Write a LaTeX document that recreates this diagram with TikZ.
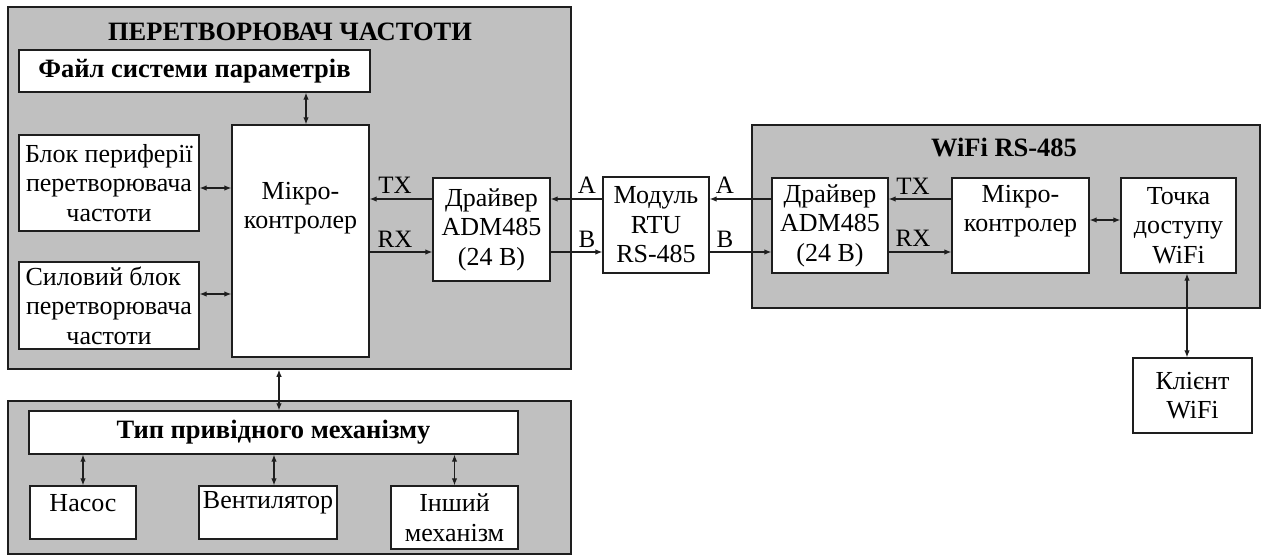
\documentclass[tikz,border=0pt]{standalone}
\usepackage{fontspec}
\setmainfont{Liberation Serif}
\usetikzlibrary{arrows.meta}
\definecolor{grpgray}{HTML}{C0C0C0}
\definecolor{edge}{HTML}{1E1E1E}
\begin{document}
\begin{tikzpicture}[x=1pt,y=-1pt,
  grp/.style={draw=edge,line width=1.5pt,fill=grpgray,inner sep=0pt},
  wbox/.style={draw=edge,line width=1.3pt,fill=white,inner sep=0pt},
  txt/.style={align=center,inner sep=0pt,font=\fontsize{26}{29.5}\selectfont},
  ttl/.style={align=center,inner sep=0pt,font=\fontsize{26.5}{30}\selectfont\bfseries},
  sig/.style={inner sep=0pt,font=\fontsize{25}{28}\selectfont},
  arr/.style={line width=1.2pt,draw=edge,-{Latex[length=7pt,width=5.5pt]}},
  biarr/.style={line width=1.2pt,draw=edge,{Latex[length=7pt,width=5.5pt]}-{Latex[length=7pt,width=5.5pt]}},
]
\useasboundingbox (0,0) rectangle (1266,557);

% group frames
\node[grp,minimum width=563,minimum height=362] (conv) at (289.5,188) {};
\node[grp,minimum width=508,minimum height=183] (wifi) at (1006,216.5) {};
\node[grp,minimum width=563,minimum height=153] (mech) at (289.5,477.5) {};

\node[ttl] (convT) at (290,32) {ПЕРЕТВОРЮВАЧ ЧАСТОТИ};
\node[ttl] (wifiT) at (1004,148) {WiFi RS-485};

% frequency converter internals
\node[wbox,ttl,minimum width=351,minimum height=42] (file) at (194.5,71) {Файл системи параметрів};
\node[wbox,minimum width=137,minimum height=232] (mcL) at (300.5,241) {};
\node[txt] (mcLt) at (300.5,208) {Мікро-\\контролер};
\node[wbox,txt,minimum width=180,minimum height=96] (per) at (109,183) {Блок периферії\\перетворювача\\частоти};
\node[wbox,txt,minimum width=180,minimum height=87] (sil) at (109,305.5) {Силовий блок\hspace*{0.45em}\\перетворювача\\частоти};
\node[wbox,txt,minimum width=117,minimum height=103] (drvL) at (491.5,229.5) {Драйвер\\ADM485\\(24 В)};

% RTU module
\node[wbox,txt,minimum width=106,minimum height=96] (modul) at (656,225) {Модуль\\RTU\\RS-485};

% WiFi RS-485 internals
\node[wbox,txt,minimum width=116,minimum height=95] (drvR) at (830,225.5) {Драйвер\\ADM485\\(24 В)};
\node[wbox,minimum width=137,minimum height=95] (mcR) at (1020.5,225.5) {};
\node[txt] (mcRt) at (1020.5,211) {Мікро-\\контролер};
\node[wbox,txt,minimum width=115,minimum height=95] (ap) at (1178.5,225.5) {Точка\\доступу\\WiFi};
\node[wbox,txt,minimum width=119,minimum height=75] (client) at (1192.5,395.5) {Клієнт\\WiFi};

% drive mechanism types
\node[wbox,ttl,minimum width=489,minimum height=43] (kind) at (273.5,432.5) {Тип привідного механізму};
\node[wbox,minimum width=106,minimum height=53] (pump) at (83,512.5) {};
\node[txt] (pumpT) at (83,503) {Насос};
\node[wbox,minimum width=138,minimum height=53] (fan) at (268,512.5) {};
\node[txt] (fanT) at (268,503) {Вентилятор};
\node[wbox,txt,minimum width=127,minimum height=63] (other) at (454.5,517.5) {Інший\\механізм};

% signal rows and vertical tracks
\coordinate (yTX) at (0,199);
\coordinate (yRX) at (0,252);
\coordinate (yPer) at (0,188);
\coordinate (ySil) at (0,294);
\coordinate (yAP) at (0,220);
\coordinate (xFile) at (306,0);
\coordinate (xConv) at (279,0);
\coordinate (xCl) at (1187,0);
\coordinate (xFan) at (274,0);

% links inside the converter
\draw[biarr] (file.south -| xFile) -- (mcL.north -| xFile);
\draw[biarr] (per.east |- yPer) -- (mcL.west |- yPer);
\draw[biarr] (sil.east |- ySil) -- (mcL.west |- ySil);
\draw[arr] (drvL.west |- yTX) -- (mcL.east |- yTX);
\draw[arr] (mcL.east |- yRX) -- (drvL.west |- yRX);
\node[sig] (txL) at (395,185) {TX};
\node[sig] (rxL) at (395,239) {RX};

% RS-485 lines
\draw[arr] (modul.west |- yTX) -- (drvL.east |- yTX);
\draw[arr] (drvL.east |- yRX) -- (modul.west |- yRX);
\node[sig] (aL) at (587,185) {A};
\node[sig] (bL) at (587,239) {B};
\draw[arr] (drvR.west |- yTX) -- (modul.east |- yTX);
\draw[arr] (modul.east |- yRX) -- (drvR.west |- yRX);
\node[sig] (aR) at (725,185) {A};
\node[sig] (bR) at (725,239) {B};

% links inside WiFi RS-485
\draw[arr] (mcR.west |- yTX) -- (drvR.east |- yTX);
\draw[arr] (drvR.east |- yRX) -- (mcR.west |- yRX);
\node[sig] (txR) at (913,186) {TX};
\node[sig] (rxR) at (913,238) {RX};
\draw[biarr] (mcR.east |- yAP) -- (ap.west |- yAP);
\draw[biarr] (ap.south -| xCl) -- (client.north -| xCl);

% converter to mechanism types
\draw[biarr] (conv.south -| xConv) -- (kind.north -| xConv);
\draw[biarr] (kind.south -| pump) -- (pump.north);
\draw[biarr] (kind.south -| xFan) -- (fan.north -| xFan);
\draw[biarr] (kind.south -| other) -- (other.north);
\end{tikzpicture}
\end{document}
